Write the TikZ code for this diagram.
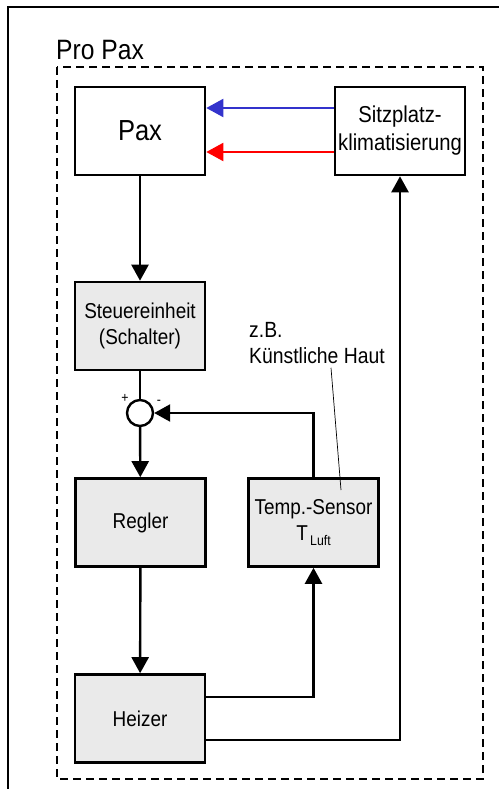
\documentclass[tikz,border=0pt]{standalone}
\usepackage{fontspec}
\setmainfont{Liberation Sans}[FakeStretch=0.88]
\usetikzlibrary{arrows.meta}
\usetikzlibrary{positioning}
\definecolor{boxgrey}{HTML}{EAEAEA}
\definecolor{coolblue}{HTML}{3333CC}

\begin{document}
\begin{tikzpicture}
        [ x=1pt, y=-1pt
        , block/.style={draw, line width=2.6pt, fill=white, minimum width=130pt,
            minimum height=88pt, inner sep=2pt, align=center,
            font=\fontsize{21.5}{26}\selectfont}
        , grey block/.style={block, fill=boxgrey}
        , flow/.style={line width=2.4pt, -{Triangle[length=16pt,width=17pt]}}
        , airflow/.style={line width=2pt, -{Triangle[length=17pt,width=18pt]}}
        ]
                \useasboundingbox (0,0) rectangle (499,789);

                % frame and group
                \draw[line width=2.4pt] (8,789) -- (8,7) -- (499,7);
                \draw[line width=2.4pt, dash pattern=on 8pt off 5pt] (57,67) rectangle (483,779);
                \node[anchor=base west, inner sep=0pt, font=\fontsize{28}{32}\selectfont]
                    (group) at (56,60) {Pro Pax};

                % blocks
                \node[block, font=\fontsize{29}{34}\selectfont] (pax) at (140,131) {Pax};
                \node[block, font=\fontsize{23}{28}\selectfont] (sitz) at (400,131)
                    {Sitzplatz-\\klimatisierung};
                \node[grey block] (steuer) at (140,326) {Steuereinheit\\(Schalter)};
                \node[draw, circle, line width=2.4pt, fill=white, minimum size=26pt,
                    inner sep=0pt] (sum) at (140,413) {};
                \node[font=\fontsize{14}{14}\selectfont, inner sep=0pt] (plus) at (125,398) {+};
                \node[font=\fontsize{14}{14}\selectfont, inner sep=0pt] (minus) at (159,402) {-};
                \node[grey block] (regler) at (140.5,522.5) {Regler};
                \node[grey block] (sensor) at (313.5,522.5)
                    {Temp.-Sensor\\T\raisebox{-5pt}{\fontsize{14}{14}\selectfont\,Luft}};
                \node[grey block] (heizer) at (140,718.5) {Heizer};

                % note
                \node[anchor=north west, align=left, inner sep=0pt,
                    font=\fontsize{22}{26}\selectfont] (note) at (249,322)
                    {z.B.\\Künstliche Haut};
                \coordinate (noteend) at (341,490);
                \draw[line width=0.7pt] ([xshift=14pt, yshift=-4pt]note.south) -- (noteend);

                % connectors
                \draw[airflow, coolblue] ([yshift=23pt]sitz.west) -- ([yshift=23pt]pax.east);
                \draw[airflow, red] ([yshift=-21pt]sitz.west) -- ([yshift=-21pt]pax.east);
                \draw[flow] (pax) -- (steuer);
                \draw[line width=2.4pt] (steuer) -- (sum);
                \draw[flow] (sum) -- (regler);
                \draw[flow] (sensor.north) |- (sum.east);
                \draw[flow] (regler) -- (heizer);
                \draw[flow] ([yshift=21.5pt]heizer.east) -| (sensor.south);
                \draw[flow] ([yshift=-21.5pt]heizer.east) -| (sitz.south);
        \end{tikzpicture}
\end{document}
